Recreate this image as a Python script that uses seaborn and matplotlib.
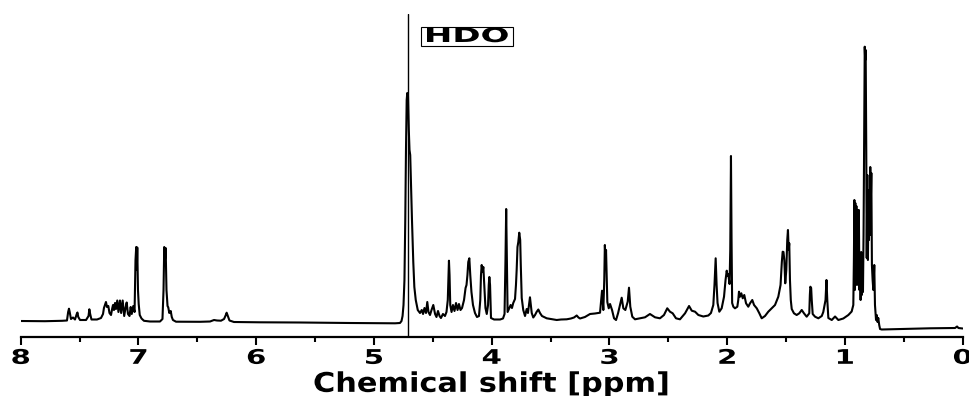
import matplotlib
matplotlib.use("Agg")
import matplotlib.pyplot as plt
import seaborn as sns
import pandas as pd
from matplotlib.patheffects import AbstractPathEffect
from matplotlib.transforms import Affine2D

# 1H NMR spectrum (D2O), traced intensities in arbitrary units
ppm_aromatic = [8.000, 7.794, 7.649, 7.607, 7.597, 7.590, 7.584, 7.573, 7.556, 7.539,
                7.524, 7.518, 7.511, 7.496, 7.445, 7.424, 7.417, 7.410, 7.399, 7.352,
                7.318, 7.301, 7.293, 7.284, 7.276, 7.267, 7.256, 7.246, 7.233, 7.222,
                7.216, 7.208, 7.199, 7.191, 7.180, 7.170, 7.157, 7.147, 7.134, 7.121,
                7.110, 7.100, 7.089, 7.076, 7.066, 7.057, 7.044, 7.033, 7.025, 7.019,
                7.014, 7.010, 7.004, 6.998, 6.989, 6.974, 6.953, 6.902, 6.817, 6.796,
                6.787, 6.781, 6.775, 6.769, 6.762, 6.753, 6.747, 6.738, 6.726, 6.717,
                6.707, 6.681]
int_aromatic = [9, 8.8, 9.2, 9.5, 18, 21.3, 18, 11, 12.5, 10.5,
                16, 17.5, 13, 10, 10, 14, 20.7, 16, 10.5, 10.5,
                12, 16, 22, 25, 28, 23, 24, 17, 15, 22,
                25, 20, 27, 21, 29.5, 18, 29.5, 17, 29.5, 14,
                22, 27.5, 16, 14, 23, 16, 24, 18, 70, 83,
                60, 82.5, 40, 26, 15, 11.5, 9.2, 8.5, 8.5, 11,
                40, 83, 70, 82, 40, 24, 22.7, 17, 19, 13,
                10, 8.3]

ppm_olefinic = [6.477, 6.392, 6.358, 6.333, 6.299, 6.273, 6.258, 6.251, 6.241, 6.227,
                6.189, 5.969, 5.628, 5.203, 4.821]
int_olefinic = [8.2, 8.5, 10, 9.5, 9.3, 11, 15, 17.3, 14, 9.5,
                8, 7.7, 7.5, 7, 6.7]

ppm_water = [4.779, 4.766, 4.757, 4.749, 4.741, 4.734, 4.728, 4.722, 4.717, 4.711,
             4.704, 4.698, 4.692, 4.685, 4.677, 4.666, 4.657, 4.645, 4.628, 4.609]
int_water = [7, 9, 14, 25, 50, 110, 180, 230, 237, 234,
             200, 180, 175, 145, 110, 68, 43, 30, 20, 17]

ppm_sugar = [4.594, 4.583, 4.571, 4.558, 4.547, 4.537, 4.524, 4.511, 4.496, 4.481,
             4.469, 4.456, 4.443, 4.431, 4.414, 4.397, 4.384, 4.373, 4.367, 4.363,
             4.358, 4.352, 4.341, 4.329, 4.316, 4.303, 4.290, 4.278, 4.265, 4.252,
             4.235, 4.222, 4.214, 4.206, 4.199, 4.190, 4.182, 4.172, 4.159, 4.142,
             4.125, 4.108, 4.097, 4.091, 4.085, 4.078, 4.071, 4.063, 4.053, 4.042,
             4.031, 4.025, 4.020, 4.014, 4.006, 3.980, 3.929, 3.904, 3.891, 3.883,
             3.877, 3.871, 3.865, 3.850, 3.839, 3.828, 3.817, 3.802, 3.794, 3.788,
             3.781, 3.774, 3.766, 3.758, 3.753, 3.745, 3.732, 3.717, 3.703, 3.692,
             3.681, 3.675, 3.668, 3.660, 3.647, 3.632, 3.619, 3.604, 3.590, 3.573,
             3.533, 3.496, 3.448, 3.411, 3.363, 3.327, 3.301, 3.278, 3.263, 3.250,
             3.208, 3.165, 3.123, 3.080]
int_sugar = [20, 16, 22, 17, 28, 18, 15, 20, 25, 16,
             13, 19, 14, 12, 16, 14, 18, 30, 55, 69.3,
             55, 25, 18, 25, 19, 27, 20, 26, 20, 22,
             30, 42, 45, 55, 68, 71.7, 55, 38, 25, 17,
             13, 14, 30, 55, 65, 58, 63, 45, 22, 16,
             25, 45, 53, 45, 12, 10.5, 10.5, 11.5, 16, 70,
             121, 70, 18, 22, 25, 22, 27, 31, 45, 60,
             83, 88, 97.3, 90, 65, 32, 20, 14, 21, 17,
             27, 32.7, 25, 17, 12.5, 15, 18, 20.5, 17, 14,
             11.7, 11, 10, 10.5, 10.7, 11.5, 12.5, 14.5, 12.5, 11.5,
             13, 16, 16.5, 17.3]

ppm_aliphatic = [3.063, 3.052, 3.044, 3.039, 3.033, 3.029, 3.023, 3.018, 3.006, 2.995,
                 2.978, 2.961, 2.944, 2.927, 2.910, 2.896, 2.882, 2.865, 2.845, 2.834,
                 2.823, 2.806, 2.783, 2.741, 2.698, 2.656, 2.613, 2.571, 2.537, 2.509,
                 2.486, 2.463, 2.435, 2.401, 2.358, 2.324, 2.301, 2.273, 2.245, 2.203,
                 2.160, 2.138, 2.118, 2.108, 2.098, 2.090, 2.082, 2.067, 2.047, 2.027,
                 2.014, 2.004, 1.997, 1.991, 1.980, 1.974, 1.968, 1.963, 1.958, 1.948,
                 1.934, 1.914, 1.906, 1.900, 1.891, 1.880, 1.868, 1.855, 1.840, 1.821,
                 1.806, 1.787, 1.772, 1.749, 1.727, 1.707, 1.679, 1.651, 1.622, 1.594,
                 1.566, 1.547, 1.536, 1.529, 1.522, 1.515, 1.507, 1.498, 1.490, 1.484,
                 1.478, 1.473, 1.467, 1.460, 1.452, 1.433, 1.410, 1.388, 1.367, 1.348,
                 1.325, 1.303, 1.298, 1.294, 1.287, 1.282, 1.274, 1.254, 1.226]
int_aliphatic = [39.3, 20, 50, 85, 68, 80, 50, 28, 21.7, 26,
                 20, 11.7, 10, 16.7, 25, 32.3, 21.7, 20, 28.3, 42.3,
                 23.3, 13.3, 10.7, 11.7, 12.7, 16, 12.7, 11.7, 15, 21.7,
                 18.3, 16.7, 11.7, 10.7, 16.7, 24, 19.3, 18.3, 15, 13.5,
                 14.5, 17, 25, 45, 71.7, 45, 27, 18.3, 21.7, 33.3,
                 50, 59.3, 54, 56, 46, 80, 174, 90, 27, 23.3,
                 21.7, 23.3, 30, 38.3, 33.3, 36.7, 31.7, 35, 26.7, 23.3,
                 26.7, 30, 25, 21.7, 16.7, 11.7, 14, 18.3, 21.7, 25,
                 33.3, 45, 68, 78.3, 78, 70, 46.7, 60, 90, 100,
                 80, 86.7, 50, 30, 21, 16.7, 15, 16.7, 20, 16.7,
                 13.3, 16.7, 35, 43.3, 42, 30, 16, 13.3, 11.7]

ppm_methyl = [1.197, 1.184, 1.165, 1.157, 1.150, 1.141, 1.112, 1.084, 1.056, 1.014,
              0.971, 0.943, 0.929, 0.924, 0.920, 0.916, 0.912, 0.908, 0.903, 0.898,
              0.892, 0.887, 0.882, 0.877, 0.872, 0.867, 0.862, 0.857, 0.852, 0.847,
              0.842, 0.836, 0.832, 0.828, 0.824, 0.819, 0.815, 0.810, 0.805, 0.801,
              0.796, 0.792, 0.788, 0.785, 0.780, 0.776, 0.771, 0.765, 0.759, 0.751,
              0.745, 0.736, 0.730, 0.723, 0.717, 0.709, 0.702, 0.688, 0.617, 0.448,
              0.278, 0.065, 0.048, 0.036, 0.000]
int_methyl = [14, 18, 30, 50, 30, 12, 10, 13.5, 10, 11.5,
              15, 18.5, 25, 70, 130, 40, 127, 50, 124, 45,
              120, 60, 120, 40, 75, 30, 78, 35, 70, 38,
              95, 210, 283.3, 270, 280, 180, 72, 155, 70, 120,
              90, 140, 95, 163, 130, 157, 65, 50, 40, 65,
              25, 10, 15, 8, 12, 5, 1, 0.5, 0.7, 1.2,
              1.7, 2, 3.5, 2, 1.5]

HDO_PPM = 4.708
major_ticks = [8, 7, 6, 5, 4, 3, 2, 1, 0]
tick_labels = ["8", "7", "6", "5", "4", "3", "2", "1", "0"]
minor_ticks = [7.5, 6.5, 5.5, 4.5, 3.5, 2.5, 1.5, 0.5]

spectrum = pd.DataFrame({
    "ppm": ppm_aromatic + ppm_olefinic + ppm_water + ppm_sugar + ppm_aliphatic + ppm_methyl,
    "intensity": int_aromatic + int_olefinic + int_water + int_sugar + int_aliphatic + int_methyl,
})


class Stretch(AbstractPathEffect):
    """Scale a drawn path about its own centre (wide display lettering)."""

    def __init__(self, sx, sy=1.0):
        super().__init__()
        self.sx, self.sy = sx, sy

    def draw_path(self, renderer, gc, tpath, affine, rgbFace=None):
        ext = tpath.transformed(affine).get_extents()
        cx = 0.5 * (ext.x0 + ext.x1)
        cy = 0.5 * (ext.y0 + ext.y1)
        t = affine + Affine2D().translate(-cx, -cy).scale(self.sx, self.sy).translate(cx, cy)
        renderer.draw_path(gc, tpath, t, rgbFace)


sns.set_style("ticks")
plt.rcParams["font.family"] = ["DejaVu Sans"]
plt.rcParams.update({
    "text.color": "black",
    "axes.labelcolor": "black",
    "xtick.color": "black",
    "axes.edgecolor": "black",
})

fig = plt.figure(figsize=(9.69, 3.96), dpi=100)
ax = fig.add_axes([20.7 / 969, (396 - 337) / 396, 942 / 969, (337 - 14) / 396])

sns.lineplot(data=spectrum, x="ppm", y="intensity", color="black", linewidth=1.5,
             estimator=None, sort=False, ax=ax)
ax.axvline(HDO_PPM, color="black", linewidth=1.0)

ax.set_xlim(8, 0)
ax.set_ylim(-7, 316)
ax.set_yticks([])
ax.set_ylabel("")
for side in ["left", "right", "top"]:
    ax.spines[side].set_visible(False)
ax.spines["bottom"].set_linewidth(1.6)
ax.spines["bottom"].set_color("black")

ax.set_xticks(major_ticks)
ax.set_xticklabels(tick_labels)
ax.set_xticks(minor_ticks, minor=True)
ax.tick_params(axis="x", which="major", direction="out", length=5.8, width=1.5,
               pad=2.7, labelsize=14.5, colors="black")
ax.tick_params(axis="x", which="minor", direction="out", length=3.6, width=1.5,
               colors="black")
for tick in ax.xaxis.get_major_ticks():
    tick.label1.set_fontweight("bold")
    tick.label1.set_color("black")
    tick.label1.set_path_effects([Stretch(1.45)])

ax.set_xlabel("Chemical shift [ppm]", fontsize=19.5, fontweight="bold", labelpad=2.9,
              color="black")
ax.xaxis.label.set_path_effects([Stretch(1.12)])

hdo = ax.text(4.21, 293.5, "HDO", ha="center", va="center", fontsize=14.4,
              fontweight="bold", color="black",
              bbox=dict(boxstyle="square,pad=0.05", fc="white", ec="black", lw=0.8))
hdo.set_path_effects([Stretch(1.7)])
hdo.get_bbox_patch().set_path_effects([Stretch(1.75, 0.95)])

fig.savefig("out.png", dpi=100)
